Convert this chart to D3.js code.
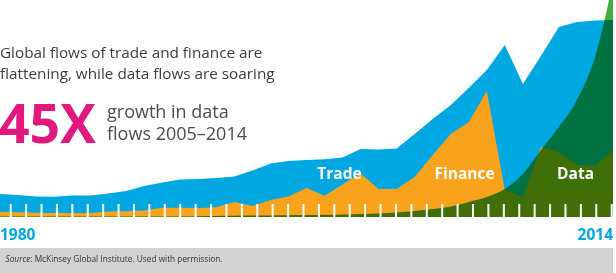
<!DOCTYPE html>
<html>
<head>
<meta charset="utf-8">
<script src="https://cdn.jsdelivr.net/npm/d3@7"></script>
<style>
  html, body { margin: 0; padding: 0; background: #fff; }
  svg { display: block; font-family: "Open Sans", sans-serif; }
</style>
</head>
<body>
<div id="chart"></div>
<script>
// years 1980..2014, values are a relative index (height above baseline)
const years = d3.range(1980, 2015);
const trade = [23, 22, 20.5, 20.3, 21.5, 21.5, 23.5, 26, 31, 34.5, 37.5, 38, 39, 40.5, 46.5, 53.5, 56, 57, 57.7, 59.5,
               68, 67.5, 68.5, 83, 98, 112, 129, 147, 172, 133, 161, 190, 195, 196.5, 197];
const finance = [5.3, 4.7, 4.2, 4, 4, 4, 5.5, 5.8, 6.5, 9.3, 9.2, 9, 9.7, 15, 11, 17, 20.5, 29, 21.3, 32.5,
                 43.5, 28, 28, 40, 62, 83, 95, 126, 27, 20, 70, 65, 52, 51, 67];
const dataFlows = [0.5, 0.5, 0.5, 0.5, 0.5, 0.5, 0.5, 0.5, 0.5, 0.5, 0.5, 0.8, 1, 1.2, 1.4, 1.6, 1.8, 2, 2.3, 2.6,
                   3, 3.5, 4.5, 6, 8, 10.5, 15, 20, 28, 43, 67, 90, 117, 160, 235];
const tickCount = 40;

const width = 616,
      height = 273;

const svg = d3.select('#chart')
    .append('svg')
    .attr('width', width)
    .attr('height', height);

const xScale = d3.scaleLinear()
    .domain([1980, 2014])
    .range([0, 613]);

const yScale = d3.scaleLinear()
    .domain([0, 217])
    .range([217, 0]);

function area(values, curve) {
    return d3.area()
        .x((d, i) => xScale(years[i]))
        .y0(yScale(0))
        .y1(d => yScale(d))
        .curve(curve || d3.curveLinear)(values);
}

svg.append('path')
    .attr('d', area(trade))
    .attr('fill', '#00a7e0');

svg.append('path')
    .attr('d', area(finance))
    .attr('fill', '#f9a21b');

svg.append('path')
    .attr('d', area(dataFlows, d3.curveMonotoneX))
    .attr('fill', '#41ad49')
    .style('mix-blend-mode', 'multiply');

// decorative white ticks along the baseline
const tickScale = d3.scaleLinear()
    .domain([0, tickCount - 1])
    .range([10.7, 611.7]);

svg.append('g')
    .selectAll('rect')
    .data(d3.range(tickCount))
    .enter().append('rect')
    .attr('x', d => tickScale(d) - 1)
    .attr('y', yScale(0) - 13)
    .attr('width', 2)
    .attr('height', 13)
    .attr('fill', '#fff');

// series labels
const labels = [
    {text: 'Trade', year: 1997.6},
    {text: 'Finance', year: 2004.1},
    {text: 'Data', year: 2010.9}
];
svg.append('g')
    .selectAll('text')
    .data(labels)
    .enter().append('text')
    .attr('x', d => xScale(d.year))
    .attr('y', 178.5)
    .attr('fill', '#fff')
    .attr('font-weight', 700)
    .attr('font-size', 15.5)
    .text(d => d.text);

// year labels
svg.append('text')
    .attr('x', xScale(1980))
    .attr('y', 239.5)
    .attr('fill', '#00a7e0')
    .attr('font-weight', 700)
    .attr('font-size', 15.5)
    .text('1980');

svg.append('text')
    .attr('x', xScale(2014))
    .attr('y', 239.5)
    .attr('text-anchor', 'end')
    .attr('fill', '#00a7e0')
    .attr('font-weight', 700)
    .attr('font-size', 15.5)
    .text('2014');

// headline
const title = svg.append('text')
    .attr('fill', '#3d3d3d')
    .attr('font-size', 15.3);
title.append('tspan').attr('x', 0).attr('y', 58).text('Global flows of trade and finance are');
title.append('tspan').attr('x', 0).attr('y', 78.5).text('flattening, while data flows are soaring');

svg.append('text')
    .attr('x', -1)
    .attr('y', 143)
    .attr('fill', '#e0197f')
    .attr('font-weight', 700)
    .attr('font-size', 53.5)
    .text('45X');

const sub = svg.append('text')
    .attr('fill', '#4d4d4d')
    .attr('font-size', 18);
sub.append('tspan').attr('x', 107).attr('y', 117.5).text('growth in data');
sub.append('tspan').attr('x', 107).attr('y', 140).text('flows 2005\u20132014');

// source footer
svg.append('rect')
    .attr('x', 0)
    .attr('y', 248)
    .attr('width', 613)
    .attr('height', height - 248)
    .attr('fill', '#d1d2d4');

const source = svg.append('text')
    .attr('x', 5.5)
    .attr('y', 262)
    .attr('fill', '#333')
    .attr('font-size', 8.3);
source.append('tspan').attr('font-style', 'italic').text('Source');
source.append('tspan').text(': McKinsey Global Institute. Used with permission.');
</script>
</body>
</html>
